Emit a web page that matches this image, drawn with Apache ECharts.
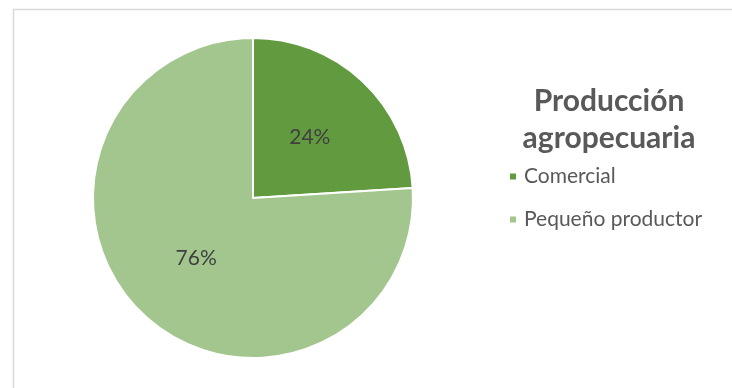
<!DOCTYPE html>
<html><head><meta charset="utf-8">
<script src="https://cdn.jsdelivr.net/npm/echarts@6/dist/echarts.min.js"></script>
<style>html,body{margin:0;padding:0;background:#fff}#c{width:732px;height:388px}</style>
</head><body><div id="c"></div>
<script>
const categories = ['Comercial', 'Pequeño productor'];
const values = [24, 76];
const colors = ['#629B3F', '#A3C68E'];
const titleText = 'Producción\nagropecuaria';

const chart = echarts.init(document.getElementById('c'), null, {renderer: 'canvas'});
chart.setOption({
  animation: false,
  backgroundColor: '#ffffff',
  graphic: [{
    type: 'rect', left: 11, top: 7, shape: {width: 740, height: 400},
    style: {fill: 'none', stroke: '#d9d9d9', lineWidth: 1.5}, silent: true
  }],
  title: {
    text: titleText, left: 604, top: 78, textAlign: 'center',
    textStyle: {fontFamily: 'Lato', fontWeight: 'bold', fontSize: 30, color: '#595959', lineHeight: 37}
  },
  legend: {
    orient: 'vertical', left: 503, top: 161, itemWidth: 8, itemHeight: 8, itemGap: 22,
    icon: 'rect',
    textStyle: {fontFamily: 'Lato', fontSize: 21, color: '#595959', padding: [0, 0, 0, 2]},
    data: categories
  },
  series: [{
    type: 'pie', center: [253, 198], radius: [0, 160], startAngle: 90, clockwise: true,
    label: {show: true, position: 'inside', formatter: '{d}%', fontFamily: 'Lato', fontSize: 21, color: '#404040'},
    labelLine: {show: false},
    itemStyle: {borderColor: '#ffffff', borderWidth: 2},
    emphasis: {disabled: true},
    data: categories.map((n, i) => ({name: n, value: values[i], itemStyle: {color: colors[i]}}))
  }]
});
</script></body></html>
